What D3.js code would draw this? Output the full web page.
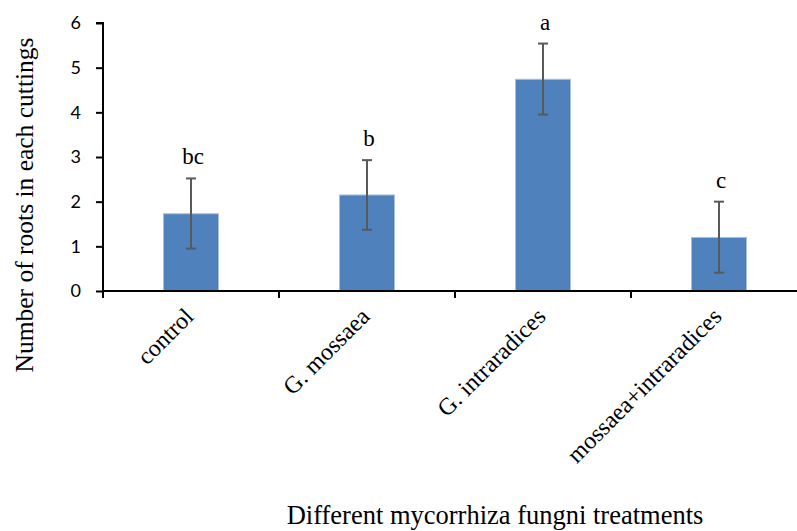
<!DOCTYPE html>
<html>
<head>
<meta charset="utf-8">
<script src="https://cdn.jsdelivr.net/npm/d3@7"></script>
<style>
    body { margin: 0; background: #fff; }
    svg { display: block; }
</style>
</head>
<body>
<svg width="797" height="531"></svg>
<script>
const treatments = ["control", "G. mossaea", "G. intraradices", "mossaea+intraradices"];
const roots = [1.73, 2.15, 4.74, 1.20];
const errHigh = [2.52, 2.93, 5.54, 2.00];
const errLow = [0.95, 1.37, 3.95, 0.41];
const letters = ["bc", "b", "a", "c"];
const yTicks = [0, 1, 2, 3, 4, 5, 6];

const svg = d3.select("svg");

const x = d3.scaleBand()
    .domain(treatments)
    .range([103, 807])
    .paddingInner(0.6875)
    .paddingOuter(0.34375);

const y = d3.scaleLinear()
    .domain([0, 6])
    .range([291, 23]);

// y axis
const yAxis = svg.append("g")
    .attr("transform", "translate(103,0)")
    .call(d3.axisLeft(y).tickValues(yTicks).tickFormat(d3.format("d")).tickSize(7).tickPadding(15));
yAxis.selectAll("path, line").attr("stroke", "#000").attr("stroke-width", 2);
yAxis.select(".domain").attr("d", "M-7," + y(6) + "H0V" + y(0));
yAxis.selectAll("text")
    .attr("font-family", "Lato, 'Open Sans', sans-serif")
    .attr("font-size", 18)
    .attr("fill", "#000");

// bars
svg.selectAll("rect.bar")
    .data(treatments)
    .enter()
    .append("rect")
    .attr("class", "bar")
    .attr("x", d => x(d))
    .attr("y", (d, i) => y(roots[i]))
    .attr("width", x.bandwidth())
    .attr("height", (d, i) => y(0) - y(roots[i]))
    .attr("fill", "#4f81bd")
    .attr("stroke", "#a9c1df")
    .attr("stroke-width", 1);

// x axis line and category ticks
const step = x.step();
const bounds = d3.range(treatments.length + 1).map(i => x(treatments[0]) - step * 0.34375 + i * step);

svg.append("line")
    .attr("x1", 103).attr("x2", bounds[bounds.length - 1])
    .attr("y1", y(0)).attr("y2", y(0))
    .attr("stroke", "#000").attr("stroke-width", 2);

svg.selectAll("line.xtick")
    .data(bounds)
    .enter()
    .append("line")
    .attr("class", "xtick")
    .attr("x1", d => d).attr("x2", d => d)
    .attr("y1", y(0)).attr("y2", y(0) + 7)
    .attr("stroke", "#000").attr("stroke-width", 2);

// error bars
const err = svg.append("g").attr("stroke", "#595959").attr("stroke-width", 2);
treatments.forEach(function(t, i) {
    let cx = x(t) + x.bandwidth() / 2;
    err.append("line")
        .attr("x1", cx).attr("x2", cx)
        .attr("y1", y(errHigh[i])).attr("y2", y(errLow[i]));
    err.append("line")
        .attr("x1", cx - 5).attr("x2", cx + 5)
        .attr("y1", y(errHigh[i])).attr("y2", y(errHigh[i]));
    err.append("line")
        .attr("x1", cx - 5).attr("x2", cx + 5)
        .attr("y1", y(errLow[i])).attr("y2", y(errLow[i]));
});

// significance letters
svg.selectAll("text.letter")
    .data(treatments)
    .enter()
    .append("text")
    .attr("class", "letter")
    .attr("x", d => x(d) + x.bandwidth() / 2 + 2)
    .attr("y", (d, i) => y(errHigh[i]) - 14)
    .attr("text-anchor", "middle")
    .attr("font-family", "'Liberation Serif', 'Times New Roman', serif")
    .attr("font-size", 23)
    .text((d, i) => letters[i]);

// rotated category labels
svg.selectAll("text.cat")
    .data(treatments)
    .enter()
    .append("text")
    .attr("class", "cat")
    .attr("transform", d => "translate(" + (x(d) + x.bandwidth() / 2 + 4) + ",318) rotate(-45)")
    .attr("text-anchor", "end")
    .attr("font-family", "'Liberation Serif', 'Times New Roman', serif")
    .attr("font-size", 24)
    .text(d => d);

// axis titles
svg.append("text")
    .attr("transform", "translate(33,205) rotate(-90)")
    .attr("text-anchor", "middle")
    .attr("font-family", "'Liberation Serif', 'Times New Roman', serif")
    .attr("font-size", 25.5)
    .text("Number of roots in each cuttings");

svg.append("text")
    .attr("x", 495)
    .attr("y", 524)
    .attr("text-anchor", "middle")
    .attr("font-family", "'Liberation Serif', 'Times New Roman', serif")
    .attr("font-size", 26.5)
    .text("Different mycorrhiza fungni treatments");
</script>
</body>
</html>
